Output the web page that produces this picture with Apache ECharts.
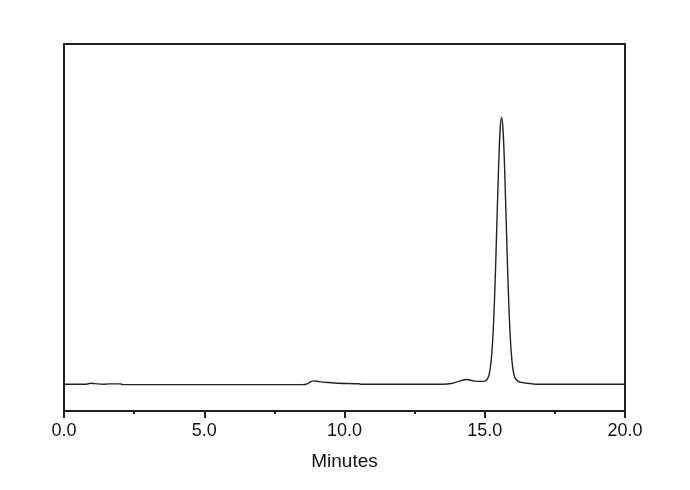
<!DOCTYPE html>
<html>
<head>
<meta charset="utf-8">
<script src="https://cdn.jsdelivr.net/npm/echarts@6/dist/echarts.min.js"></script>
<style>html,body{margin:0;padding:0;background:#fff;}#chart{width:690px;height:490px;}</style>
</head>
<body>
<div id="chart"></div>
<script>
// Retention time (minutes) and detector response (arbitrary units, baseline = 0, main peak = 100)
var times = [0, 0.8, 0.95, 1.1, 1.4, 1.6, 2.0, 2.1, 5.0, 8.5, 8.65, 8.8, 8.9, 9.1, 9.4, 9.8, 10.5, 10.6,
  13.5, 13.8, 14.1, 14.35, 14.6, 14.85, 15.0, 15.05, 15.1, 15.15, 15.2, 15.25, 15.3, 15.35, 15.4, 15.45, 15.5,
  15.55, 15.6, 15.65, 15.7, 15.75, 15.8, 15.85, 15.9, 15.95, 16.0, 16.05, 16.1, 16.2, 16.3, 16.5, 16.7,
  16.85, 18.0, 20.0];
var response = [0, 0.05, 0.4, 0.25, 0.0, 0.15, 0.15, -0.1, -0.1, -0.1, 0.1, 1.0, 1.3, 1.0, 0.7, 0.4, 0.2, 0.0,
  0.05, 0.3, 1.2, 1.8, 1.3, 1.1, 1.2, 1.5, 2.1, 3.4, 6.3, 11.4, 19.9, 32.4, 48.6, 66.6, 83.5,
  95.7, 100, 95.7, 83.5, 66.3, 48.3, 32.2, 19.6, 11.2, 6.0, 3.3, 2.0, 1.1, 0.7, 0.4, 0.15,
  0.0, 0.0, 0.0];
var xTickValues = [0, 5, 10, 15, 20];
var xName = 'Minutes';

var chart = echarts.init(document.getElementById('chart'));
var seriesData = times.map(function (t, i) { return [t, response[i]]; });
chart.setOption({
  animation: false,
  backgroundColor: '#fff',
  grid: { left: 64, right: 65, top: 44, bottom: 79, show: true, borderColor: '#222', borderWidth: 2, backgroundColor: 'transparent' },
  xAxis: {
    type: 'value', min: xTickValues[0], max: xTickValues[xTickValues.length - 1], interval: 5,
    name: xName, nameLocation: 'middle', nameGap: 41,
    nameTextStyle: { fontFamily: 'Liberation Sans', fontSize: 19, color: '#111' },
    axisLine: { show: true, onZero: false, lineStyle: { color: '#222', width: 2 } },
    axisTick: { show: true, length: 7, lineStyle: { color: '#222', width: 2 } },
    minorTick: { show: true, splitNumber: 2, length: 3, lineStyle: { color: '#222', width: 2 } },
    axisLabel: { margin: 11, fontFamily: 'Liberation Sans', fontSize: 18, color: '#111',
      formatter: function (v) { return v.toFixed(1); } },
    splitLine: { show: false }
  },
  yAxis: {
    type: 'value', min: -10, max: 127.5,
    axisLine: { show: false }, axisTick: { show: false }, axisLabel: { show: false }, splitLine: { show: false }
  },
  series: [{
    type: 'line', data: seriesData, showSymbol: false, smooth: 0.3,
    lineStyle: { color: '#222', width: 1.4 }
  }]
});
</script>
</body>
</html>
